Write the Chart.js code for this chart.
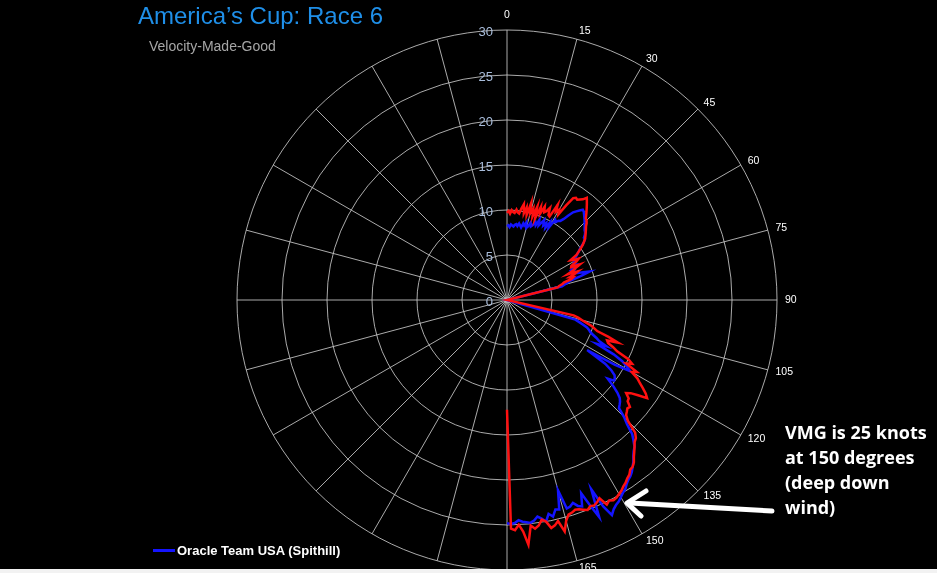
<!DOCTYPE html>
<html>
<head>
<meta charset="utf-8">
<script src="https://cdn.jsdelivr.net/npm/chart.js@4.4.1/dist/chart.umd.min.js"></script>
<style>
html,body{margin:0;padding:0;background:#000;}
#wrap{position:relative;width:937px;height:573px;overflow:hidden;background:#000;}
#chart{position:absolute;left:0;top:0;}
#arrow{position:absolute;left:0;top:0;}
#band{position:absolute;left:0;top:569px;width:937px;height:4px;background:#f2f2f2;}
.txt{position:absolute;white-space:nowrap;}
#title{left:138px;top:2px;font:24px/28px "Liberation Sans",Arial,sans-serif;color:#1f8fe8;}
#subtitle{left:149px;top:38px;font:14px/16px "Liberation Sans",Arial,sans-serif;color:#a6a6a6;}
#note{left:785px;top:420px;font:bold 18px/25px "Open Sans",sans-serif;color:#fff;}
#legend{left:153px;top:543px;font:bold 13px/16px "Liberation Sans",Arial,sans-serif;color:#fff;}
#legend .sw{display:inline-block;width:22px;height:3px;background:#1414ff;vertical-align:middle;margin-right:2px;position:relative;top:-1px;}
</style>
</head>
<body>
<div id="wrap">
  <canvas id="chart" width="937" height="600"></canvas>
  <svg id="arrow" width="937" height="573">
    <line x1="772" y1="511" x2="630" y2="503" stroke="#fff" stroke-width="5" stroke-linecap="round"/>
    <polyline points="646,491 627,503 641,516" fill="none" stroke="#fff" stroke-width="5" stroke-linecap="round" stroke-linejoin="round"/>
  </svg>
  <div class="txt" id="title">America’s Cup: Race 6</div>
  <div class="txt" id="subtitle">Velocity-Made-Good</div>
  <div class="txt" id="note">VMG is 25 knots<br>at 150 degrees<br>(deep down<br>wind)</div>
  <div class="txt" id="legend"><span class="sw"></span>Oracle Team USA (Spithill)</div>
  <div id="band"></div>
</div>
<script>
// Heading categories (degrees, one per degree around the circle)
const headingLabels = [];
for (let d = 0; d < 360; d++) headingLabels.push(String(d));

// Angle tick labels shown around the outside
const angleTickLabels = [0, 15, 30, 45, 60, 75, 90, 105, 120, 135, 150, 165];

// Radial tick labels (knots)
const radialTicks = [0, 5, 10, 15, 20, 25, 30];

// VMG by heading 0..180 degrees — Oracle Team USA (Spithill), blue
const oracleVMG = [
  8.2, 8.3, 8.1, 8.4, 8.3, 8.2, 8.4, 8.5, 8.3, 8.6,
  8.4, 8.2, 8.7, 8.5, 8.9, 8.3, 8.5, 9.0, 8.6, 8.8,
  9.2, 8.9, 9.6, 9.0, 9.4, 9.8, 9.2, 9.6, 9.1, 9.9,
  9.3, 10.4, 10.2, 10.5, 10.6, 11.0, 11.6, 12.2, 12.5, 12.8,
  13.1, 13.0, 12.8, 12.6, 12.4, 12.2, 12.0, 11.8, 11.6, 11.5,
  11.3, 11.0, 11.0, 10.7, 10.3, 9.9, 9.6, 9.3, 9.0, 8.8,
  8.6, 8.5, 8.4, 8.7, 8.3, 7.9, 8.2, 8.0, 7.9, 8.4,
  9.0, 9.7, 8.6, 7.3, 7.0, 6.6, 6.3, 0, 0, 0,
  0, 0, 0, 0, 0, 0, 0, 0, 0, 0,
  0, 0, 0, 0, 0, 0, 0, 0, 0, 0,
  0, 0, 0, 0, 0, 0, 7.9, 8.4, 8.9, 9.4,
  9.7, 9.9, 10.3, 10.8, 11.2, 12.2, 11.1, 13.3, 14.5, 15.2,
  15.8, 14.0, 10.5, 13.0, 14.0, 14.6, 14.8, 14.9, 14.2, 15.2,
  16.0, 16.6, 16.9, 17.1, 17.3, 18.4, 19.2, 20.4, 21.0, 21.6,
  21.9, 22.3, 22.8, 23.2, 23.6, 23.9, 24.1, 24.4, 24.8, 25.0,
  25.3, 25.6, 25.8, 26.1, 26.6, 25.3, 23.0, 26.2, 24.6, 23.0,
  24.4, 24.2, 23.7, 24.0, 24.1, 21.9, 24.0, 23.9, 24.6, 24.2,
  25.0, 24.6, 24.3, 24.7, 24.9, 24.8, 24.7, 24.5, 24.8, 24.9,
  24.8
];

// VMG by heading 0..180 degrees — Emirates Team New Zealand, red
const nzVMG = [
  9.7, 9.9, 9.6, 10.0, 9.8, 9.7, 10.1, 9.8, 9.7, 10.3,
  10.8, 9.8, 10.5, 9.7, 11.1, 10.0, 10.6, 9.7, 10.9, 9.6,
  11.0, 10.3, 11.2, 10.6, 10.8, 11.3, 10.5, 10.4, 12.0, 11.2,
  11.6, 11.1, 12.4, 13.5, 13.7, 13.6, 13.8, 14.0, 14.4, 14.1,
  13.8, 13.5, 13.2, 12.9, 12.6, 12.5, 12.3, 12.0, 11.8, 11.6,
  11.4, 11.2, 11.0, 10.7, 10.4, 10.0, 9.6, 9.2, 8.3, 8.6,
  9.2, 8.8, 8.1, 8.0, 9.0, 8.4, 8.0, 7.3, 8.5, 8.0,
  7.4, 7.8, 7.5, 6.6, 6.4, 6.0, 5.8, 0, 0, 0,
  0, 0, 0, 0, 0, 0, 0, 0, 0, 0,
  0, 0, 0, 0, 0, 0, 0, 0, 0, 0,
  0, 0, 0, 7.6, 8.2, 8.6, 9.2, 9.8, 10.2, 10.6,
  12.0, 13.2, 12.0, 12.2, 12.9, 13.5, 15.0, 15.6, 15.0, 16.5,
  16.0, 16.9, 17.4, 18.0, 18.6, 19.0, 18.0, 17.2, 16.8, 17.4,
  17.5, 18.1, 18.0, 18.2, 18.4, 19.0, 20.5, 21.0, 21.2, 21.6,
  22.0, 22.4, 22.9, 23.2, 23.3, 23.7, 23.9, 24.2, 24.4, 24.7,
  24.9, 25.1, 25.2, 25.0, 25.3, 24.3, 24.6, 24.8, 24.7, 25.0,
  24.8, 24.6, 24.5, 24.7, 24.8, 25.4, 26.5, 25.2, 25.6, 25.8,
  25.0, 24.7, 25.3, 25.6, 25.2, 27.3, 25.8, 25.0, 25.6, 25.4,
  12.2
];

function fullCircle(values) {
  const out = values.slice();
  while (out.length < headingLabels.length) out.push(null);
  return out;
}

const axisTextPlugin = {
  id: 'axisText',
  afterDraw(chart) {
    const s = chart.scales.r;
    const ctx = chart.ctx;
    ctx.save();
    // radial tick labels, to the left of the 0° spoke
    ctx.font = '13px "Liberation Sans", Arial, sans-serif';
    ctx.fillStyle = '#a9bddb';
    ctx.textAlign = 'right';
    ctx.textBaseline = 'middle';
    radialTicks.forEach(v => {
      const d = s.getDistanceFromCenterForValue(v);
      ctx.fillText(String(v), s.xCenter - 14, s.yCenter - d + 2);
    });
    // angle labels
    ctx.font = '10.5px "Liberation Sans", Arial, sans-serif';
    ctx.fillStyle = '#ffffff';
    angleTickLabels.forEach(deg => {
      const idx = headingLabels.indexOf(String(deg));
      const p = s.getPointPosition(idx, s.drawingArea + 8);
      let x = p.x, y = p.y;
      if (deg === 0) { ctx.textAlign = 'center'; y -= 7; }
      else if (deg < 180) { ctx.textAlign = 'left'; }
      else { ctx.textAlign = 'right'; }
      ctx.fillText(String(deg), x, y);
    });
    ctx.restore();
  }
};

new Chart(document.getElementById('chart'), {
  type: 'radar',
  data: {
    labels: headingLabels,
    datasets: [
      {
        label: 'Oracle Team USA (Spithill)',
        data: fullCircle(oracleVMG),
        borderColor: '#1414ff',
        borderWidth: 2.5,
        pointRadius: 0,
        fill: false,
        spanGaps: false,
        order: 1
      },
      {
        label: 'Emirates Team New Zealand (Barker)',
        data: fullCircle(nzVMG),
        borderColor: '#ff1010',
        borderWidth: 2.5,
        pointRadius: 0,
        fill: false,
        spanGaps: false,
        order: 0
      }
    ]
  },
  options: {
    responsive: false,
    animation: false,
    events: [],
    layout: { padding: { left: 237, right: 160, top: 30, bottom: 30 } },
    plugins: { legend: { display: false }, tooltip: { enabled: false }, title: { display: false } },
    elements: { line: { tension: 0 } },
    scales: {
      r: {
        min: 0,
        max: 30,
        startAngle: 0,
        ticks: { display: false, stepSize: 5 },
        grid: { circular: true, color: 'rgba(200,200,200,0.85)', lineWidth: 1 },
        angleLines: {
          display: true,
          color: 'rgba(200,200,200,0.85)',
          lineWidth: (c) => (c.index % 15 === 0 ? 1 : 0)
        },
        pointLabels: { display: false }
      }
    }
  },
  plugins: [axisTextPlugin]
});
</script>
</body>
</html>
